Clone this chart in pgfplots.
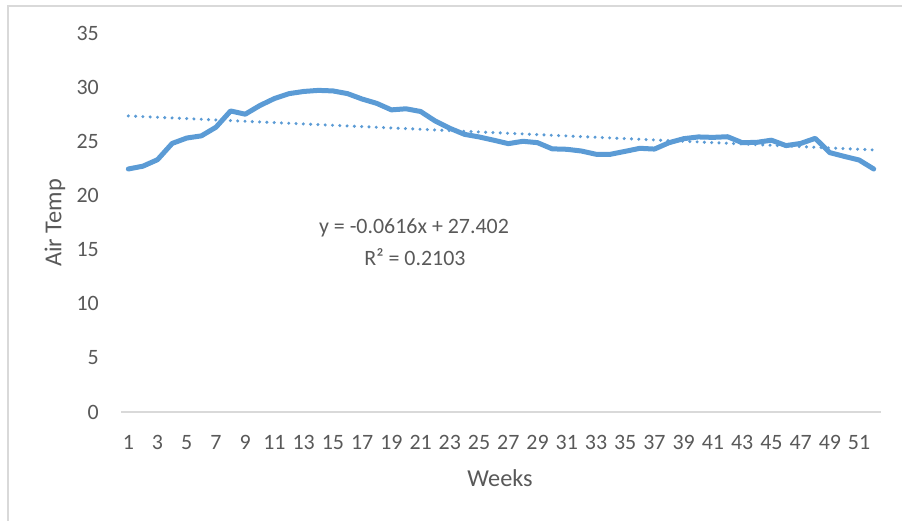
\documentclass[border=0pt]{standalone}
\usepackage{pgfplots}
\pgfplotsset{compat=1.18}
\usepackage{fontspec}
\setmainfont{Carlito}
\definecolor{xlblue}{HTML}{5B9BD5}
\definecolor{txtgray}{HTML}{595959}
\definecolor{lngray}{HTML}{D9D9D9}
\begin{document}
\begin{tikzpicture}[x=1bp,y=1bp]
\useasboundingbox (0,0) rectangle (902,521);
\draw[lngray, line width=1.2bp] (8,-2) -- (8,515) -- (904,515);
\begin{axis}[
  at={(121bp,109bp)}, anchor=south west,
  scale only axis, width=760bp, height=379bp,
  xmin=0.5, xmax=52.5, ymin=0, ymax=35,
  xtick={1,3,...,51}, ytick={0,5,...,35},
  major tick length=0pt,
  axis x line*=bottom, axis y line*=left,
  x axis line style={-, draw=lngray, line width=1.5bp},
  y axis line style={draw=none},
  /pgf/number format/assume math mode=true,
  tick label style={font=\fontsize{22}{26}\selectfont, text=txtgray, inner sep=0pt},
  yticklabel style={anchor=east, xshift=-22bp},
  xticklabel style={anchor=north, yshift=-23bp},
  xlabel={Weeks}, ylabel={Air Temp},
  label style={font=\fontsize{24.4}{28}\selectfont, text=txtgray},
  xlabel style={at={(axis description cs:0.4987,-0.174)}, anchor=center},
  ylabel style={at={(axis description cs:-0.0868,0.4987)}, anchor=center},
  clip=false,
]
\addplot[xlblue, line width=5bp, line join=round, line cap=round] coordinates {
(1,22.44) (2,22.7) (3,23.3) (4,24.8) (5,25.3) (6,25.5) (7,26.3) (8,27.8) (9,27.5) (10,28.3)
(11,28.95) (12,29.4) (13,29.6) (14,29.7) (15,29.65) (16,29.4) (17,28.9) (18,28.5) (19,27.9) (20,28.0)
(21,27.75) (22,26.87) (23,26.2) (24,25.64) (25,25.4) (26,25.1) (27,24.78) (28,25.0) (29,24.87) (30,24.3)
(31,24.26) (32,24.1) (33,23.8) (34,23.8) (35,24.07) (36,24.35) (37,24.28) (38,24.87) (39,25.24) (40,25.4)
(41,25.36) (42,25.42) (43,24.87) (44,24.9) (45,25.1) (46,24.6) (47,24.8) (48,25.27) (49,23.95) (50,23.6)
(51,23.27) (52,22.44)
};
\addplot[xlblue, line width=3.4bp, line cap=round, dash pattern=on 0bp off 7.3bp] coordinates {
(1,27.3404) (52,24.1988)
};
\node[font=\fontsize{22}{26}\selectfont, text=txtgray, anchor=center] at (axis description cs:0.3855,0.4855) {y = -0.0616x + 27.402};
\node[font=\fontsize{22}{26}\selectfont, text=txtgray, anchor=center] at (axis description cs:0.3868,0.409) {R² = 0.2103};
\end{axis}
\end{tikzpicture}
\end{document}
